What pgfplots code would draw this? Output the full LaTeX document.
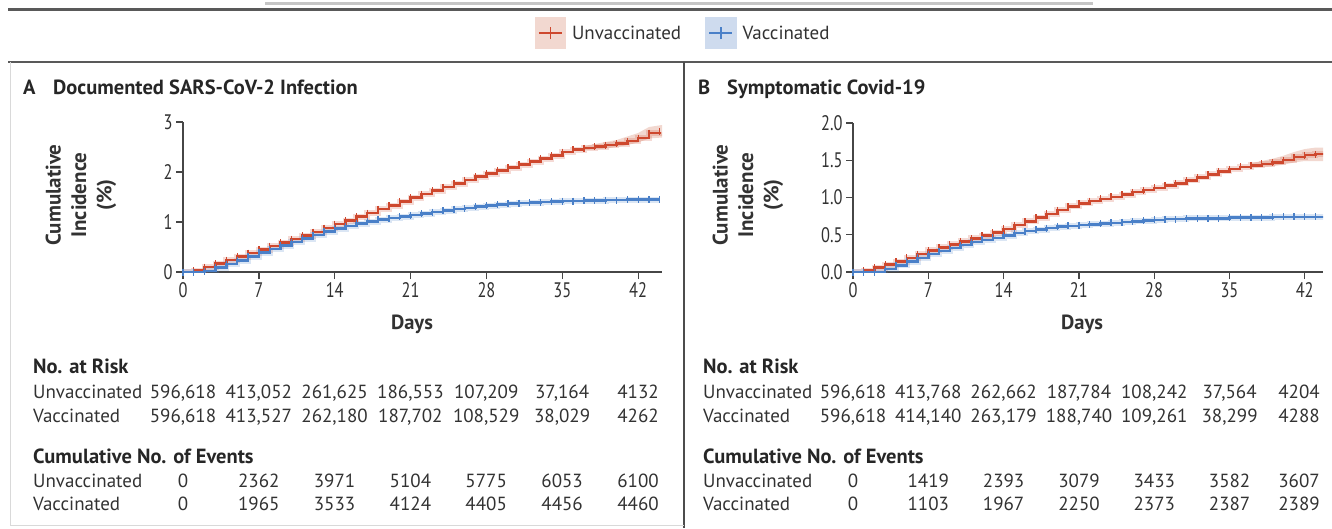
\documentclass[border=0pt]{standalone}
\usepackage{pgfplots}
\pgfplotsset{compat=1.18}
\usepackage{pgfplotstable}
\usepackage{fontspec}
\setmainfont{PT Sans}
\definecolor{ured}{RGB}{206,72,46}
\definecolor{vblue}{RGB}{74,128,200}
\definecolor{uredl}{RGB}{242,216,208}
\definecolor{vbluel}{RGB}{206,219,238}
\definecolor{txt}{RGB}{50,50,50}
\definecolor{axc}{RGB}{70,70,70}
\pgfkeys{/pgf/number format/assume math mode=true}

\pgfplotstableread{
day Ua Va Ub Vb
0 0 0 0 0
1 0.03 0.00 0.02 0.00
2 0.10 0.02 0.06 0.00
3 0.17 0.09 0.10 0.04
4 0.24 0.16 0.14 0.09
5 0.31 0.23 0.19 0.14
6 0.38 0.31 0.24 0.19
7 0.45 0.39 0.29 0.24
8 0.52 0.46 0.33 0.28
9 0.59 0.53 0.37 0.32
10 0.66 0.60 0.41 0.36
11 0.73 0.67 0.45 0.40
12 0.80 0.74 0.49 0.43
13 0.88 0.81 0.53 0.46
14 0.96 0.87 0.58 0.49
15 1.03 0.92 0.63 0.52
16 1.11 0.97 0.68 0.55
17 1.18 1.01 0.73 0.57
18 1.26 1.05 0.78 0.59
19 1.33 1.08 0.83 0.61
20 1.41 1.11 0.88 0.62
21 1.49 1.14 0.92 0.63
22 1.56 1.17 0.95 0.64
23 1.63 1.20 0.98 0.65
24 1.70 1.23 1.01 0.66
25 1.77 1.26 1.04 0.67
26 1.84 1.28 1.07 0.68
27 1.91 1.31 1.10 0.69
28 1.97 1.33 1.13 0.70
29 2.03 1.35 1.16 0.71
30 2.09 1.37 1.19 0.71
31 2.15 1.38 1.23 0.72
32 2.21 1.39 1.27 0.72
33 2.27 1.40 1.31 0.72
34 2.33 1.41 1.35 0.72
35 2.40 1.42 1.38 0.73
36 2.45 1.42 1.41 0.73
37 2.48 1.43 1.43 0.73
38 2.51 1.43 1.45 0.73
39 2.54 1.44 1.47 0.74
40 2.57 1.44 1.50 0.74
41 2.62 1.45 1.54 0.74
42 2.68 1.45 1.57 0.74
43 2.78 1.45 1.58 0.74
44 2.81 1.45 1.58 0.74
}\km

\pgfplotsset{
  kmaxis/.style={
    scale only axis,
    axis lines=left,
    axis line style={-, axc, line width=1.3pt},
    every tick/.style={axc, line width=1.3pt},
    tick align=outside,
    major tick length=7pt,
    xmin=0, ymin=0,
    xtick={0,7,14,21,28,35,42},
    xticklabel={\scalebox{0.78}[1]{\pgfmathprintnumber{\tick}}},
    tick label style={font=\fontsize{21}{22}\selectfont, text=txt},
    clip=true,
  },
  halo/.style={const plot, no marks, line width=6pt, opacity=0.2, forget plot},
  kmU/.style={const plot, color=ured, line width=2.4pt, mark=|, mark size=3.5pt, mark options={line width=1.3pt},
    legend image code/.code={
      \fill[uredl] (0pt,-14.5pt) rectangle (29pt,14.5pt);
      \draw[ured, line width=2.4pt] (3pt,0pt) -- (26pt,0pt);
      \draw[ured, line width=1.5pt] (14.5pt,-6pt) -- (14.5pt,6pt);
      \path (33pt,0pt);}},
  kmV/.style={const plot, color=vblue, line width=2.4pt, mark=|, mark size=3.5pt, mark options={line width=1.3pt},
    legend image code/.code={
      \fill[vbluel] (0pt,-14.5pt) rectangle (29pt,14.5pt);
      \draw[vblue, line width=2.4pt] (3pt,0pt) -- (26pt,0pt);
      \draw[vblue, line width=1.5pt] (14.5pt,-6pt) -- (14.5pt,6pt);
      \path (33pt,0pt);}},
}

\newcommand\tfont{\fontsize{19}{21}\selectfont}
\newcommand\hfont{\fontsize{20.5}{22}\selectfont\bfseries}
% row of 7 numbers for panel A / B at baseline y
\newcommand\rowA[8]{%
  \node[anchor=base] at (183,#1) {#2};
  \node[anchor=base] at (258.8,#1) {#3};
  \node[anchor=base] at (334.6,#1) {#4};
  \node[anchor=base] at (410.4,#1) {#5};
  \node[anchor=base] at (486.2,#1) {#6};
  \node[anchor=base] at (562.1,#1) {#7};
  \node[anchor=base] at (638,#1) {#8};}
\newcommand\rowB[8]{%
  \node[anchor=base] at (853,#1) {#2};
  \node[anchor=base] at (928.3,#1) {#3};
  \node[anchor=base] at (1003.6,#1) {#4};
  \node[anchor=base] at (1079,#1) {#5};
  \node[anchor=base] at (1154.3,#1) {#6};
  \node[anchor=base] at (1229.6,#1) {#7};
  \node[anchor=base] at (1299,#1) {#8};}

\begin{document}
\begin{tikzpicture}[x=1pt,y=1pt]
\useasboundingbox (0,0) rectangle (1332,-528);
% frame lines
\draw[gray!45, line width=3pt] (265,-3) -- (1093,-3);
\draw[black!65, line width=2.5pt] (8,-9.5) -- (1332,-9.5);
\draw[black!65, line width=2.5pt] (8,-62) -- (1332,-62);
\draw[black!70, line width=1.8pt] (684,-62) -- (684,-528);
\draw[gray!30, line width=1pt] (10,-62) -- (10,-525) -- (684,-525);

% Panel A
\begin{axis}[kmaxis,
  at={(183pt,-272pt)}, anchor=south west,
  width=479pt, height=150pt,
  xmax=44.2, ymax=3,
  ytick={0,1,2,3},
  yticklabel={\scalebox{0.78}[1]{\pgfmathprintnumber{\tick}}},
  legend style={at={(axis description cs:1.044,1.593)}, anchor=center, draw=none, fill=none,
    legend columns=2, font=\tfont\color{txt}, inner sep=0pt,
    /tikz/every even column/.append style={column sep=22pt}},
  legend cell align=left,
]
\addplot[fill=uredl, draw=none, forget plot] coordinates {(37,2.52) (38,2.56) (39,2.60) (40,2.64) (41,2.71) (42,2.78) (43,2.90) (44.2,2.94) (44.2,2.69) (43,2.67) (42,2.59) (41,2.54) (40,2.50) (39,2.47) (38,2.45) (37,2.44)} -- cycle;
\addplot[halo, ured] table[x=day, y=Ua] {\km};
\addplot[halo, vblue] table[x=day, y=Va] {\km};
\addplot[kmU] table[x=day, y=Ua] {\km};
\addlegendentry{Unvaccinated}
\addplot[kmV] table[x=day, y=Va] {\km};
\addlegendentry{Vaccinated}
\end{axis}

% Panel B
\begin{axis}[kmaxis,
  at={(853pt,-272pt)}, anchor=south west,
  width=470pt, height=149pt,
  xmax=43.7, ymax=2,
  ytick={0,0.5,1,1.5,2},
  yticklabel={\scalebox{0.78}[1]{\pgfmathprintnumber[fixed,fixed zerofill,precision=1]{\tick}}},
]
\addplot[fill=uredl, draw=none, forget plot] coordinates {(37,1.46) (38,1.49) (39,1.52) (40,1.56) (41,1.61) (42,1.65) (43,1.67) (43.7,1.67) (43.7,1.49) (43,1.49) (42,1.49) (41,1.47) (40,1.44) (39,1.42) (38,1.41) (37,1.40)} -- cycle;
\addplot[halo, ured] table[x=day, y=Ub] {\km};
\addplot[halo, vblue] table[x=day, y=Vb] {\km};
\addplot[kmU] table[x=day, y=Ub] {\km};
\addplot[kmV] table[x=day, y=Vb] {\km};
\end{axis}

% titles
\begin{scope}[every node/.style={text=black!85, font=\hfont, inner sep=0pt}]
\node[anchor=base west] at (23,-94) {A};
\node[anchor=base west] at (53,-94) {Documented SARS-CoV-2 Infection};
\node[anchor=base west] at (698,-94) {B};
\node[anchor=base west] at (727,-94) {Symptomatic Covid-19};
\end{scope}

% y labels
\node[rotate=90, align=center, text=txt, inner sep=0pt, font=\fontsize{21}{25.5}\selectfont\bfseries] at (81,-195) {Cumulative\\Incidence\\(\%)};
\node[rotate=90, align=center, text=txt, inner sep=0pt, font=\fontsize{21}{25.5}\selectfont\bfseries] at (748,-195) {Cumulative\\Incidence\\(\%)};

% Days
\node[text=txt, font=\hfont] at (412,-324) {Days};
\node[text=txt, font=\hfont] at (1082,-324) {Days};

% risk tables
\begin{scope}[every node/.style={text=txt, font=\tfont, inner sep=0pt}]
\node[anchor=base west, font=\hfont, text=black!85] at (33,-373) {No. at Risk};
\node[anchor=base west] at (33,-398) {Unvaccinated};
\node[anchor=base west] at (33,-422) {Vaccinated};
\node[anchor=base west, font=\hfont, text=black!85] at (33,-463) {Cumulative No. of Events};
\node[anchor=base west] at (33,-487) {Unvaccinated};
\node[anchor=base west] at (33,-510) {Vaccinated};
\rowA{-398}{596,618}{413,052}{261,625}{186,553}{107,209}{37,164}{4132}
\rowA{-422}{596,618}{413,527}{262,180}{187,702}{108,529}{38,029}{4262}
\rowA{-487}{0}{2362}{3971}{5104}{5775}{6053}{6100}
\rowA{-510}{0}{1965}{3533}{4124}{4405}{4456}{4460}
\node[anchor=base west, font=\hfont, text=black!85] at (703,-373) {No. at Risk};
\node[anchor=base west] at (703,-398) {Unvaccinated};
\node[anchor=base west] at (703,-422) {Vaccinated};
\node[anchor=base west, font=\hfont, text=black!85] at (703,-463) {Cumulative No. of Events};
\node[anchor=base west] at (703,-487) {Unvaccinated};
\node[anchor=base west] at (703,-510) {Vaccinated};
\rowB{-398}{596,618}{413,768}{262,662}{187,784}{108,242}{37,564}{4204}
\rowB{-422}{596,618}{414,140}{263,179}{188,740}{109,261}{38,299}{4288}
\rowB{-487}{0}{1419}{2393}{3079}{3433}{3582}{3607}
\rowB{-510}{0}{1103}{1967}{2250}{2373}{2387}{2389}
\end{scope}
\end{tikzpicture}
\end{document}
